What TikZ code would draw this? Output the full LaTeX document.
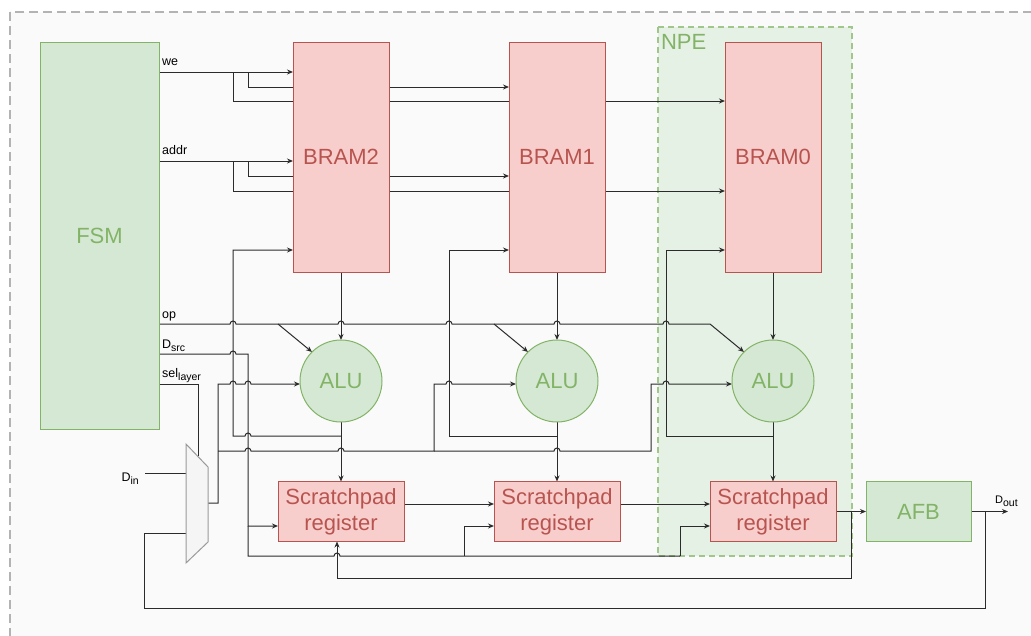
\documentclass[tikz,border=0pt]{standalone}
\usepackage{fontspec}
\setmainfont{Liberation Sans}
\usetikzlibrary{arrows.meta,calc}
\definecolor{bramfill}{HTML}{F8CECC}
\definecolor{bramline}{HTML}{B85450}
\definecolor{alufill}{HTML}{D5E8D4}
\definecolor{aluline}{HTML}{82B366}
\definecolor{muxfill}{HTML}{F5F5F5}
\definecolor{muxline}{HTML}{9A9A9A}
\definecolor{framecol}{HTML}{B3B3B3}
\definecolor{paper}{HTML}{FAFAFA}
\definecolor{wirecol}{HTML}{2B2B2B}
\pgfdeclarelayer{back}
\pgfdeclarelayer{wires}
\pgfsetlayers{back,wires,main}
\newcommand{\hop}{arc[start angle=180,end angle=360,radius=3]}
\newcommand{\hopback}{arc[start angle=360,end angle=180,radius=3]}
\newcommand{\lsub}[1]{\raisebox{-3pt}{\fontsize{10.5}{11}\selectfont #1}}

\begin{document}
\begin{tikzpicture}[x=1pt,y=-1pt,
  big/.style={font=\fontsize{22}{26}\selectfont,inner sep=0pt,outer sep=0pt,align=center,line width=1pt},
  bram/.style={big,draw=bramline,fill=bramfill,text=bramline,minimum width=96pt,minimum height=230pt},
  reg/.style={big,draw=bramline,fill=bramfill,text=bramline,minimum width=126pt,minimum height=60pt},
  alu/.style={big,circle,draw=aluline,fill=alufill,text=aluline,minimum size=82pt},
  green box/.style={big,draw=aluline,fill=alufill,text=aluline},
  wire/.style={draw=wirecol,line width=1pt},
  arrow/.style={wire,-{Stealth[length=6pt,width=5pt]}},
  lbl/.style={font=\fontsize{12.5}{14}\selectfont,inner sep=0pt,anchor=base west},
  ]
\useasboundingbox (0,0) rectangle (1031,635);

% blocks
\node[green box,minimum width=119pt,minimum height=387pt] (fsm) at (99.5,235.5) {FSM};
\node[bram] (bram2) at (341,157) {BRAM2};
\node[bram] (bram1) at (557,157) {BRAM1};
\node[bram] (bram0) at (773,157) {BRAM0};
\node[alu] (alu2) at (341,381) {ALU};
\node[alu] (alu1) at (557,381) {ALU};
\node[alu] (alu0) at (773,381) {ALU};
\node[reg] (reg2) at (341,511.5) {Scratchpad\\register};
\node[reg] (reg1) at (557,511.5) {Scratchpad\\register};
\node[reg] (reg0) at (773,511.5) {Scratchpad\\register};
\node[green box,minimum width=105pt,minimum height=60pt] (afb) at (918.5,511.5) {AFB};
\node[big,text=aluline,anchor=base west] (npe) at (661,49) {NPE};
\draw[draw=muxline,fill=muxfill,line width=1pt] (186,444) -- (208,467) -- (208,542) -- (186,563) -- cycle;

% pins
\coordinate (we) at (159,72);
\coordinate (addr) at (159,161);
\coordinate (op) at (159,324);
\coordinate (dsrc) at (159,354);
\coordinate (sel) at (159,384);
\coordinate (din) at (145,473);
\coordinate (dout) at (1008,511.5);
\coordinate (mux sel) at (198,456);
\coordinate (mux in) at (186,473);
\coordinate (mux fb) at (186,533);
\coordinate (mux out) at (208,503);

% labels
\node[lbl] (we lbl) at (162,65) {we};
\node[lbl] (addr lbl) at (162,154) {addr};
\node[lbl] (op lbl) at (162,318) {op};
\node[lbl] (dsrc lbl) at (162,348) {D\lsub{src}};
\node[lbl] (sel lbl) at (162,377) {sel\lsub{layer}};
\node[lbl,anchor=base east] (din lbl) at (139,481) {D\lsub{in}};
\node[lbl,font=\fontsize{11}{13}\selectfont] (dout lbl) at (995,503) {D\lsub{out}};

\begin{pgfonlayer}{back}
\fill[white] (0,0) rectangle (1031,635);
\draw[framecol,line width=1.5pt,dash pattern=on 9pt off 5pt,fill=paper] (10,12) rectangle (1060,670);
\draw[aluline!75,line width=1.5pt,dash pattern=on 6pt off 4pt,fill=alufill!60] (658,27) rectangle (852,556);
\end{pgfonlayer}

\begin{pgfonlayer}{wires}
% we / addr
\draw[arrow] (we) -- ($(bram2.north west)+(0,30)$);
\draw[arrow] (248,72) |- ($(bram1.north west)+(0,45)$);
\draw[arrow] (233,72) |- ($(bram0.north west)+(0,59)$);
\draw[arrow] (addr) -- ($(bram2.north west)+(0,119)$);
\draw[arrow] (248,161) |- ($(bram1.north west)+(0,134)$);
\draw[arrow] (233,161) |- ($(bram0.north west)+(0,149)$);
% bram -> alu -> reg
\draw[arrow] (bram2) -- (alu2);
\draw[arrow] (bram1) -- (alu1);
\draw[arrow] (bram0) -- (alu0);
\draw[arrow] (alu2) -- (reg2);
\draw[arrow] (alu1) -- (reg1);
\draw[arrow] (alu0) -- (reg0);
% alu result back to bram
\draw[arrow] ($(alu2.south)+(0,14)$) -- (251,436) \hopback -- (233,436) |- ($(bram2.north west)+(0,208)$);
\draw[arrow] ($(alu1.south)+(0,14)$) -- (449,436) |- ($(bram1.north west)+(0,208)$);
\draw[arrow] ($(alu0.south)+(0,14)$) -- (666,436) |- ($(bram0.north west)+(0,208)$);
% op
\draw[arrow] (op) -- (230,324) \hop -- (338,324) \hop -- (446,324) \hop -- (554,324) \hop
  -- (663,324) \hop -- (710,324) -- (alu0.north west);
\draw[arrow] (278,324) -- (alu2.north west);
\draw[arrow] (494,324) -- (alu1.north west);
% D_src
\draw[arrow] (dsrc) -- (230,354) \hop -- (248,354) |- ($(reg2.west)+(0,14.5)$);
\draw[wire] (248,526) -- (248,556) -- (334,556) \hop -- (680,556);
\draw[arrow] (464,556) |- ($(reg1.west)+(0,14.5)$);
\draw[arrow] (680,556) |- ($(reg0.west)+(0,14.5)$);
% mux
\draw[wire] (sel) -| (mux sel);
\draw[wire] (din) -- (mux in);
\draw[arrow] (mux out) -- (218,503) -- (218,384) -- (230,384) \hop -- (245,384) \hop -- ($(alu2.west)+(0,3)$);
\draw[arrow] (218,451) -- (245,451) \hop -- (338,451) \hop -- (434,451) -- (434,384) -- (446,384) \hop
  -- ($(alu1.west)+(0,3)$);
\draw[arrow] (434,451) -- (554,451) \hop -- (651,451) -- (651,384) -- (663,384) \hop -- ($(alu0.west)+(0,3)$);
% scratchpad chain
\draw[arrow] ($(reg2.east)+(0,-7.5)$) -- ($(reg1.west)+(0,-7.5)$);
\draw[arrow] ($(reg1.east)+(0,-7.5)$) -- ($(reg0.west)+(0,-7.5)$);
\draw[arrow] (reg0) -- (afb);
\draw[arrow] (851,511.5) -- (851,578) -| ($(reg2.south)+(-4,0)$);
% output
\draw[arrow] (afb.east) -- (dout);
\draw[wire] (985,511.5) -- (985,608) -| (144,533) -- (mux fb);
\end{pgfonlayer}
\end{tikzpicture}
\end{document}
